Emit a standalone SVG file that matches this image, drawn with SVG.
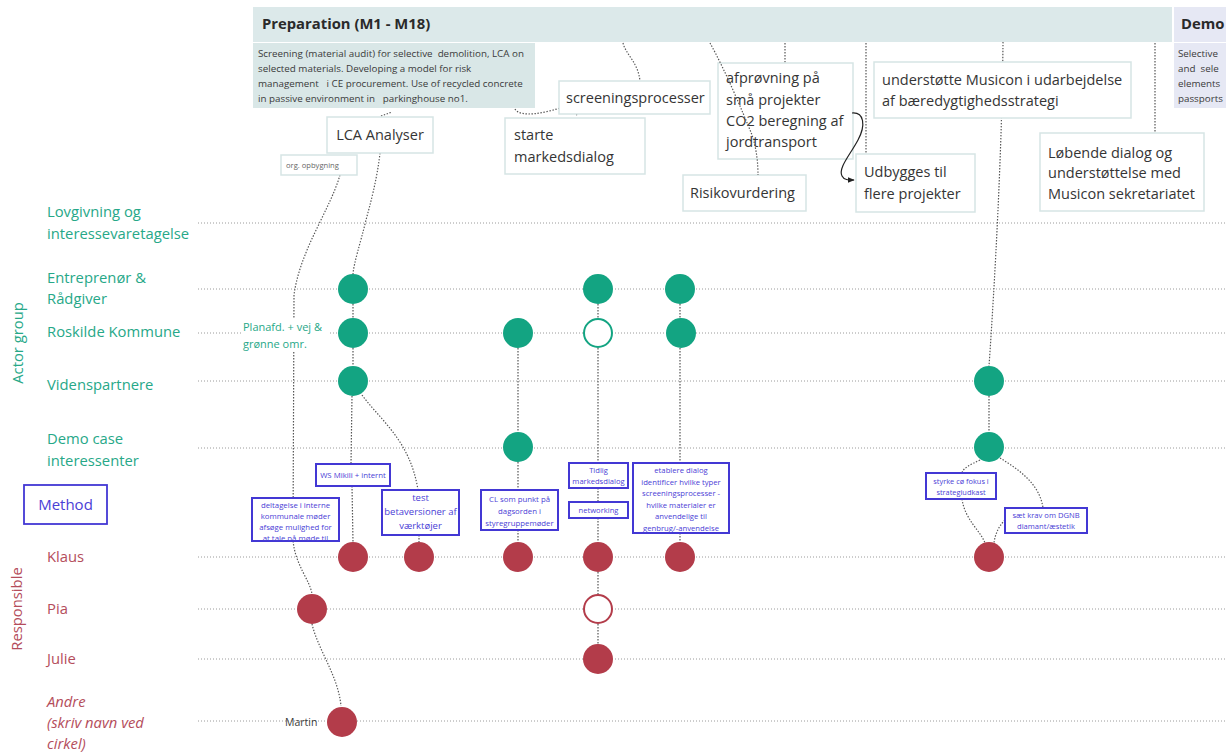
<svg xmlns="http://www.w3.org/2000/svg" width="1226" height="753" viewBox="0 0 1226 753">
  <defs>
    <style>
      text { font-family: "Open Sans", "Noto Sans", "Liberation Sans", sans-serif; }
      .row { stroke: #9a9a9a; stroke-width: 1; stroke-dasharray: 1 2; fill: none; }
      .dot { stroke: #555; stroke-width: 1.2; stroke-dasharray: 1.4 1.6; fill: none; }
      .note { fill: #ffffff; stroke: #d6e5e5; stroke-width: 1.5; }
      .note-t { font-size: 14.5px; fill: #353535; }
      .meth { fill: #ffffff; stroke: #4338d4; stroke-width: 2; }
      .meth-t { fill: #4a40d6; text-anchor: middle; }
      .actor { font-size: 14.8px; fill: #27a888; }
      .resp { font-size: 14.8px; fill: #b44d5b; }
      .tc { fill: #13a482; }
      .tc-open { fill: #ffffff; stroke: #13a482; stroke-width: 2; }
      .rc { fill: #b33c4a; }
      .rc-open { fill: #ffffff; stroke: #b33c4a; stroke-width: 2; }
      .desc { font-size: 9.8px; fill: #3a3a3a; white-space: pre; }
    </style>
    <marker id="arrow" viewBox="0 0 10 10" refX="9" refY="5" markerWidth="6" markerHeight="6" orient="auto">
      <path d="M0,1 L10,5 L0,9 z" fill="#222"/>
    </marker>
    <clipPath id="clip-delt"><rect x="252" y="498" width="87" height="43"/></clipPath>
    <clipPath id="clip-etab"><rect x="633" y="463" width="96" height="70"/></clipPath>
  </defs>

  <rect width="1226" height="753" fill="#ffffff"/>

  <!-- phase header -->
  <g id="phase-preparation">
    <rect x="253" y="7" width="919" height="35" fill="#dce9ea"/>
    <text x="262" y="29" font-size="14.8" font-weight="bold" fill="#2a2a2a">Preparation (M1 - M18)</text>
    <rect x="253" y="43" width="282" height="65" fill="#d9e7e7"/>
    <text class="desc" x="258" y="57" xml:space="preserve">Screening (material audit) for selective  demolition, LCA on</text>
    <text class="desc" x="258" y="72" xml:space="preserve">selected materials. Developing a model for risk</text>
    <text class="desc" x="258" y="87" xml:space="preserve">management   i CE procurement. Use of recycled concrete</text>
    <text class="desc" x="258" y="102" xml:space="preserve">in passive environment in   parkinghouse no1.</text>
  </g>
  <g id="phase-demo">
    <rect x="1174" y="7" width="52" height="35" fill="#e6e8f4"/>
    <text x="1181" y="29" font-size="14.8" font-weight="bold" fill="#2a2a2a">Demo</text>
    <rect x="1174" y="43" width="52" height="65" fill="#e6e8f4"/>
    <text class="desc" x="1178" y="57" xml:space="preserve">Selective</text>
    <text class="desc" x="1178" y="72" xml:space="preserve">and  sele</text>
    <text class="desc" x="1178" y="87" xml:space="preserve">elements</text>
    <text class="desc" x="1178" y="102" xml:space="preserve">passports</text>
  </g>

  <!-- row guides -->
  <g id="rows">
    <line class="row" x1="198" y1="223" x2="1226" y2="223"/>
    <line class="row" x1="198" y1="289" x2="1226" y2="289"/>
    <line class="row" x1="198" y1="333" x2="1226" y2="333"/>
    <line class="row" x1="198" y1="381" x2="1226" y2="381"/>
    <line class="row" x1="198" y1="448" x2="1226" y2="448"/>
    <line class="row" x1="198" y1="557" x2="1226" y2="557"/>
    <line class="row" x1="198" y1="609" x2="1226" y2="609"/>
    <line class="row" x1="198" y1="659" x2="1226" y2="659"/>
    <line class="row" x1="198" y1="721" x2="1226" y2="721"/>
  </g>

  <!-- row labels -->
  <g id="labels-actor">
    <text class="actor" transform="translate(23,343) rotate(-90)" text-anchor="middle">Actor group</text>
    <text class="actor" x="47" y="217">Lovgivning og</text>
    <text class="actor" x="47" y="239">interessevaretagelse</text>
    <text class="actor" x="47" y="283">Entreprenør &amp;</text>
    <text class="actor" x="47" y="304">Rådgiver</text>
    <text class="actor" x="47" y="337">Roskilde Kommune</text>
    <text class="actor" x="47" y="390">Videnspartnere</text>
    <text class="actor" x="47" y="444">Demo case</text>
    <text class="actor" x="47" y="466">interessenter</text>
  </g>
  <g id="label-method">
    <rect x="24" y="485" width="83" height="39" fill="#ffffff" stroke="#4338d4" stroke-width="1.8"/>
    <text x="65.5" y="509.5" font-size="15" fill="#4a40d6" text-anchor="middle">Method</text>
  </g>
  <g id="labels-responsible">
    <text class="resp" transform="translate(22,609) rotate(-90)" text-anchor="middle">Responsible</text>
    <text class="resp" x="47" y="562">Klaus</text>
    <text class="resp" x="47" y="614">Pia</text>
    <text class="resp" x="47" y="664">Julie</text>
    <text class="resp" x="47" y="707" font-style="italic">Andre</text>
    <text class="resp" x="47" y="728" font-style="italic">(skriv navn ved</text>
    <text class="resp" x="47" y="749" font-style="italic">cirkel)</text>
  </g>

  <!-- dotted connectors -->
  <g id="connectors">
    <path class="dot" d="M381,116 L392,112"/>
    <path class="dot" d="M380,153 C377,180 370,205 366,220 C360,245 354,262 353,274"/>
    <path class="dot" d="M340,175 C330,210 300,250 294,295 L293,540 C295,565 310,580 312,594"/>
    <path class="dot" d="M312,624 C318,650 338,675 341,706"/>
    <path class="dot" d="M353,304 L353,318 M353,348 L353,366 M352,396 L351,464 M352,486 L353,542"/>
    <path class="dot" d="M362,395 C380,420 410,440 418,490 M419,535 L419,542"/>
    <path class="dot" d="M518,348 L518,432 M518,462 L518,490 M518,530 L518,542"/>
    <path class="dot" d="M598,304 L598,318 M598,348 L598,463 M598,488 L598,502 M598,518 L598,542 M598,572 L598,594 M598,624 L598,644"/>
    <path class="dot" d="M680,304 L680,318 M680,348 L680,463 M680,533 L680,542"/>
    <path class="dot" d="M1003,42 C1002,150 995,280 989,366"/>
    <path class="dot" d="M989,396 L989,432"/>
    <path class="dot" d="M980,460 C970,465 963,468 962,473 M962,499 C965,520 980,530 985,543"/>
    <path class="dot" d="M1000,458 C1020,470 1040,485 1043,508 M1005,520 C998,527 995,535 994,543"/>
    <path class="dot" d="M623,43 C626,55 638,62 640,81"/>
    <path class="dot" d="M515,109 C520,118 545,113 560,108 C570,106 576,110 577,116"/>
    <path class="dot" d="M785,43 L785,63"/>
    <path class="dot" d="M866,43 L866,154"/>
    <path class="dot" d="M1155,43 L1155,133"/>
  </g>

  <!-- activity notes -->
  <g id="note-lca">
    <rect class="note" x="327" y="117" width="106" height="36"/>
    <text class="note-t" x="380" y="140" text-anchor="middle">LCA Analyser</text>
  </g>
  <g id="note-org">
    <rect class="note" x="281" y="155" width="76" height="20"/>
    <text x="286" y="168" font-size="7.6" fill="#666">org. opbygning</text>
  </g>
  <g id="note-screening">
    <rect class="note" x="559" y="81" width="151" height="33"/>
    <text class="note-t" x="566" y="103">screeningsprocesser</text>
  </g>
  <g id="note-marked">
    <rect class="note" x="505" y="118" width="140" height="56"/>
    <text class="note-t" x="514" y="140">starte</text>
    <text class="note-t" x="514" y="162">markedsdialog</text>
  </g>
  <g id="note-afproevning">
    <rect class="note" x="718" y="63" width="135" height="96"/>
    <text class="note-t" x="726" y="83">afprøvning på</text>
    <text class="note-t" x="726" y="105">små projekter</text>
    <text class="note-t" x="726" y="126">CO2 beregning af</text>
    <text class="note-t" x="726" y="147">jordtransport</text>
  </g>
  <g id="note-risiko">
    <rect class="note" x="683" y="175" width="123" height="36"/>
    <text class="note-t" x="690" y="198">Risikovurdering</text>
  </g>
  <g id="note-udbygges">
    <rect class="note" x="856" y="154" width="119" height="58"/>
    <text class="note-t" x="864" y="177">Udbygges til</text>
    <text class="note-t" x="864" y="199">flere projekter</text>
  </g>
  <g id="note-musicon">
    <rect class="note" x="874" y="62" width="257" height="56"/>
    <text class="note-t" x="882" y="85">understøtte Musicon i udarbejdelse</text>
    <text class="note-t" x="882" y="106">af bæredygtighedsstrategi</text>
  </g>
  <g id="note-loebende">
    <rect class="note" x="1040" y="133" width="164" height="78"/>
    <text class="note-t" x="1048" y="158">Løbende dialog og</text>
    <text class="note-t" x="1048" y="178">understøttelse med</text>
    <text class="note-t" x="1048" y="199">Musicon sekretariatet</text>
  </g>

  <!-- lines drawn over the notes -->
  <g id="connectors-over">
    <path class="dot" d="M710,43 C725,70 742,110 752,135 C757,150 758,165 758,175"/>
    <path d="M852,113 C864,112 866,125 858,140 C850,155 838,168 842,176 C844,180 848,180 854,180" fill="none" stroke="#222" stroke-width="1.2" marker-end="url(#arrow)"/>
  </g>

  <!-- method boxes -->
  <g id="m-ws">
    <rect class="meth" x="316" y="464" width="74" height="22"/>
    <text class="meth-t" x="353" y="478" font-size="7.8">WS Mikili + internt</text>
  </g>
  <g id="m-test">
    <rect class="meth" x="382" y="490" width="77" height="45"/>
    <text class="meth-t" x="420.5" y="501" font-size="9.5">test</text>
    <text class="meth-t" x="420.5" y="515" font-size="9.5">betaversioner af</text>
    <text class="meth-t" x="420.5" y="529" font-size="9.5">værktøjer</text>
  </g>
  <g id="m-deltagelse">
    <rect class="meth" x="252" y="498" width="87" height="43"/>
    <g clip-path="url(#clip-delt)">
      <text class="meth-t" x="295.5" y="508" font-size="7.8">deltagelse i interne</text>
      <text class="meth-t" x="295.5" y="519" font-size="7.8">kommunale møder</text>
      <text class="meth-t" x="295.5" y="530" font-size="7.8">afsøge mulighed for</text>
      <text class="meth-t" x="295.5" y="541" font-size="7.8">at tale på møde til</text>
    </g>
  </g>
  <g id="m-cl">
    <rect class="meth" x="481" y="490" width="77" height="40"/>
    <text class="meth-t" x="519.5" y="502" font-size="7.8">CL som punkt på</text>
    <text class="meth-t" x="519.5" y="514" font-size="7.8">dagsorden i</text>
    <text class="meth-t" x="519.5" y="526" font-size="7.8">styregruppemøder</text>
  </g>
  <g id="m-tidlig">
    <rect class="meth" x="569" y="463" width="59" height="25"/>
    <text class="meth-t" x="598.5" y="473" font-size="7.6">Tidlig</text>
    <text class="meth-t" x="598.5" y="484" font-size="7.6">markedsdialog</text>
  </g>
  <g id="m-networking">
    <rect class="meth" x="569" y="502" width="59" height="16"/>
    <text class="meth-t" x="598.5" y="513" font-size="7.6">networking</text>
  </g>
  <g id="m-etablere">
    <rect class="meth" x="633" y="463" width="96" height="70"/>
    <g clip-path="url(#clip-etab)">
      <text class="meth-t" x="681" y="473" font-size="7.7">etablere dialog</text>
      <text class="meth-t" x="681" y="484.5" font-size="7.7">identificer hvilke typer</text>
      <text class="meth-t" x="681" y="496" font-size="7.7">screeningsprocesser -</text>
      <text class="meth-t" x="681" y="507.5" font-size="7.7">hvilke materialer er</text>
      <text class="meth-t" x="681" y="519" font-size="7.7">anvendelige til</text>
      <text class="meth-t" x="681" y="530.5" font-size="7.7">genbrug/-anvendelse</text>
    </g>
  </g>
  <g id="m-styrke">
    <rect class="meth" x="926" y="473" width="70" height="26"/>
    <text class="meth-t" x="961" y="484" font-size="7.4">styrke cø fokus i</text>
    <text class="meth-t" x="961" y="495" font-size="7.4">strategiudkast</text>
  </g>
  <g id="m-saet">
    <rect class="meth" x="1005" y="508" width="82" height="25"/>
    <text class="meth-t" x="1046" y="518" font-size="7.6">sæt krav om DGNB</text>
    <text class="meth-t" x="1046" y="529" font-size="7.6">diamant/æstetik</text>
  </g>

  <!-- side annotations -->
  <g id="label-planafd">
    <rect x="242" y="318" width="86" height="33" fill="#ffffff"/>
    <text x="243" y="331" font-size="11" fill="#27a888">Planafd. + vej &amp;</text>
    <text x="243" y="348" font-size="11" fill="#27a888">grønne omr.</text>
  </g>
  <g id="label-martin">
    <text x="285" y="725.5" font-size="10.5" fill="#3a3a3a">Martin</text>
  </g>

  <!-- actor markers -->
  <g id="actors">
    <circle class="tc" cx="353" cy="289" r="15"/>
    <circle class="tc" cx="353" cy="333" r="15"/>
    <circle class="tc" cx="353" cy="381" r="15"/>
    <circle class="tc" cx="518" cy="333" r="15"/>
    <circle class="tc" cx="518" cy="447" r="15"/>
    <circle class="tc" cx="598" cy="289" r="15"/>
    <circle class="tc-open" cx="598" cy="333" r="14"/>
    <circle class="tc" cx="680" cy="289" r="15"/>
    <circle class="tc" cx="681" cy="333" r="15"/>
    <circle class="tc" cx="989" cy="381" r="15"/>
    <circle class="tc" cx="989" cy="447" r="15"/>
  </g>

  <!-- responsible markers -->
  <g id="responsible">
    <circle class="rc" cx="353" cy="557" r="15"/>
    <circle class="rc" cx="419" cy="557" r="15"/>
    <circle class="rc" cx="518" cy="557" r="15"/>
    <circle class="rc" cx="598" cy="557" r="15"/>
    <circle class="rc" cx="680" cy="557" r="15"/>
    <circle class="rc" cx="989" cy="557" r="15"/>
    <circle class="rc" cx="312" cy="609" r="15"/>
    <circle class="rc-open" cx="598" cy="609" r="14"/>
    <circle class="rc" cx="598" cy="659" r="15"/>
    <circle class="rc" cx="342" cy="722" r="15"/>
  </g>
</svg>
